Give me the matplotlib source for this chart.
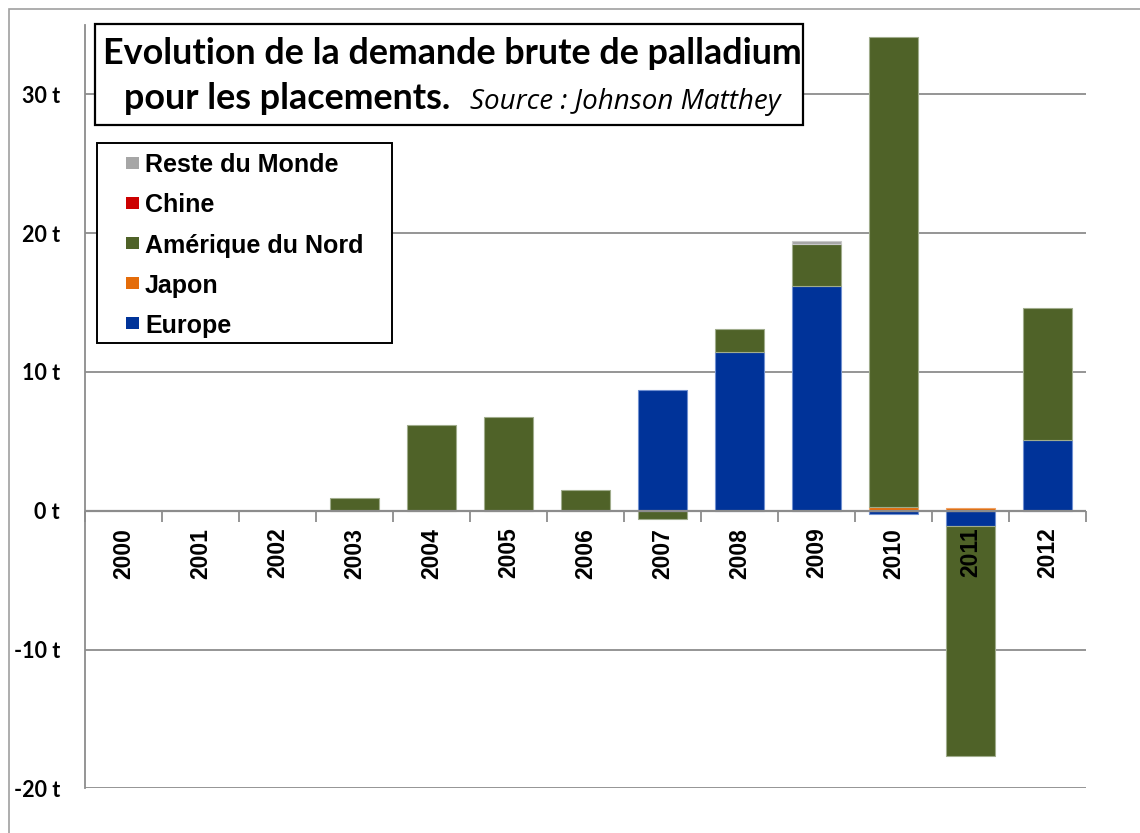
import matplotlib
matplotlib.use("Agg")
import matplotlib.pyplot as plt
from matplotlib.patches import Rectangle
import numpy as np

years = ["2000", "2001", "2002", "2003", "2004", "2005", "2006",
         "2007", "2008", "2009", "2010", "2011", "2012"]
europe = [0, 0, 0, 0, 0, 0, 0, 8.67, 11.46, 16.21, -0.2, -1.1, 5.09]
japon = [0, 0, 0, 0, 0, 0, 0, 0, 0, 0, 0.25, 0.17, 0]
amerique_nord = [0, 0, 0, 0.89, 6.17, 6.77, 1.49, -0.6, 1.61, 3.01, 33.85, -16.6, 9.49]
chine = [0, 0, 0, 0, 0, 0, 0, 0, 0, 0, 0, 0, 0]
reste_monde = [0, 0, 0, 0, 0, 0, 0, 0, 0, 0.19, 0, 0, 0]

series = [
    ("Europe", europe, "#003399", "#7090D0"),
    ("Japon", japon, "#E46C0A", "#F0A060"),
    ("Amérique du Nord", amerique_nord, "#4F6228", "#A0AC8C"),
    ("Chine", chine, "#CC0000", "#E06060"),
    ("Reste du Monde", reste_monde, "#A6A6A6", "#C8C8C8"),
]

W, H = 1140, 833
fig = plt.figure(figsize=(W / 100, H / 100), dpi=100)

def fx(px):
    return px / W

def fy(py):
    return 1 - py / H

ax_l, ax_r, ax_t, ax_b = 85, 1086, 25, 788.3
ax = fig.add_axes([fx(ax_l), fy(ax_b), fx(ax_r - ax_l), (ax_b - ax_t) / H])

x = np.arange(len(years))
pos_bottom = np.zeros(len(years))
neg_bottom = np.zeros(len(years))
colors = {}
for name, vals, col, edge in series:
    v = np.array(vals, dtype=float)
    bottoms = np.where(v >= 0, pos_bottom, neg_bottom)
    nz = v != 0
    if nz.any():
        ax.bar(x[nz], v[nz], bottom=bottoms[nz], width=0.64, color=col,
               edgecolor=edge, linewidth=0.8, zorder=3)
    pos_bottom = pos_bottom + np.where(v > 0, v, 0)
    neg_bottom = neg_bottom + np.where(v < 0, v, 0)
    colors[name] = col

ax.set_xlim(-0.5, len(years) - 0.5)
ax.set_ylim(-20, 35)
ax.set_yticks([-20, -10, 0, 10, 20, 30])
ax.set_yticklabels(["-20 t", "-10 t", "0 t", "10 t", "20 t", "30 t"],
                   fontfamily="Lato", fontweight="bold", fontsize=15.5)
ax.tick_params(axis="y", length=0, pad=18)

ax.grid(axis="y", color="#8C8C8C", linewidth=1.3, zorder=0)
ax.set_axisbelow(True)

ax.spines["top"].set_visible(False)
ax.spines["right"].set_visible(False)
ax.spines["bottom"].set_visible(False)
ax.spines["left"].set_color("#8C8C8C")
ax.spines["left"].set_linewidth(1.3)
ax.plot([-0.5, len(years) - 0.5], [0, 0], color="#8C8C8C", linewidth=1.6,
        zorder=4, solid_capstyle="butt")
ax.set_xticks([])
for b in np.arange(-0.5, len(years), 1.0):
    ax.plot([b], [0], marker=3, markersize=8, color="#8C8C8C",
            markeredgewidth=1.3, zorder=4, clip_on=False, linestyle="none")
for i, yr in enumerate(years):
    ax.annotate(yr, xy=(i, 0), xycoords="data", xytext=(0, -17),
                textcoords="offset pixels", rotation=90, ha="center", va="top",
                fontfamily="Liberation Sans", fontweight="bold", fontsize=16.5,
                zorder=5)

# outer border
fig.patches.append(Rectangle((fx(9), -0.1), 1, fy(9) + 0.1, transform=fig.transFigure,
                             fill=False, edgecolor="#A0A0A0", linewidth=1.2))

# title box
tb = Rectangle((fx(95), fy(125)), fx(803 - 95), (125 - 24) / H,
               transform=fig.transFigure, facecolor="white", edgecolor="black",
               linewidth=1.6, zorder=10)
fig.patches.append(tb)
fig.text(fx(452), fy(64.5), "Evolution de la demande brute de palladium",
         ha="center", va="baseline", fontfamily="Lato", fontweight="bold",
         fontsize=25.8, zorder=11)
fig.text(fx(124), fy(109), "pour les placements.", ha="left", va="baseline",
         fontfamily="Lato", fontweight="bold", fontsize=25.8, zorder=11)
fig.text(fx(780), fy(109), "Source : Johnson Matthey", ha="right", va="baseline",
         fontfamily="Open Sans", fontstyle="italic", fontsize=20, zorder=11)

# legend (drawn manually to match box geometry)
order = ["Reste du Monde", "Chine", "Amérique du Nord", "Japon", "Europe"]
lb = Rectangle((fx(97), fy(343)), fx(392 - 97), (343 - 143) / H,
               transform=fig.transFigure, facecolor="white", edgecolor="black",
               linewidth=1.4, zorder=10)
fig.patches.append(lb)
for k, name in enumerate(order):
    yc = 163 + 40 * k
    fig.patches.append(Rectangle((fx(126), fy(yc + 6)), fx(13), 12 / H,
                                 transform=fig.transFigure, facecolor=colors[name],
                                 edgecolor="none", zorder=11))
    fig.text(fx(145), fy(yc), name, ha="left", va="center_baseline",
             fontfamily="Liberation Sans", fontweight="bold", fontsize=18,
             zorder=11)

fig.savefig("out.png", dpi=100)
